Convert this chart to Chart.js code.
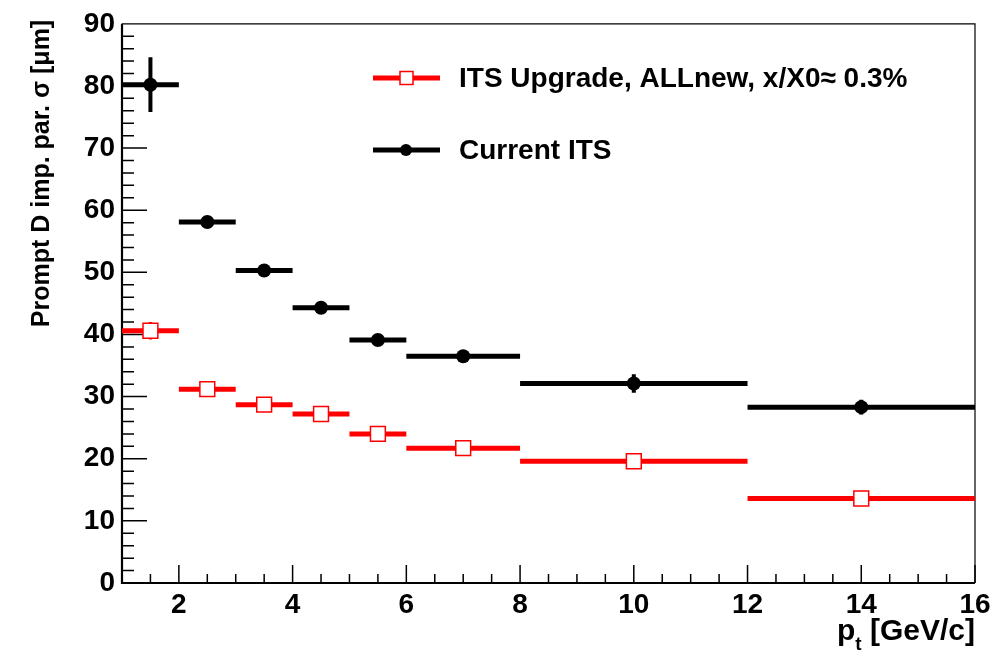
<!DOCTYPE html>
<html>
<head>
<meta charset="utf-8">
<script src="https://cdn.jsdelivr.net/npm/chart.js@4.4.2/dist/chart.umd.min.js"></script>
<style>
  html, body { margin: 0; padding: 0; background: #fff; }
</style>
</head>
<body>
<canvas id="chart" width="1006" height="657"></canvas>
<script>
// pt bins [GeV/c]
const binLo = [1, 2, 3, 4, 5, 6, 8, 12];
const binHi = [2, 3, 4, 5, 6, 8, 12, 16];
const binMid = [1.5, 2.5, 3.5, 4.5, 5.5, 7, 10, 14];

// impact parameter resolution [um]
const currentITS = [80.2, 58.1, 50.3, 44.3, 39.1, 36.5, 32.1, 28.3];
const currentErr = [4.4, 0.6, 0.6, 0.6, 0.6, 0.7, 1.5, 1.2];
const upgradeITS = [40.6, 31.2, 28.7, 27.2, 24.0, 21.7, 19.6, 13.6];
const upgradeErr = [1.4, 0.5, 0.5, 0.5, 0.5, 0.5, 0.5, 0.5];

const xTicks = [2, 4, 6, 8, 10, 12, 14, 16];
const yTicks = [0, 10, 20, 30, 40, 50, 60, 70, 80, 90];

const legendLabels = ['ITS Upgrade, ALLnew, x/X0\u2248 0.3%', 'Current ITS'];

const RED = '#ff0000';
const BLACK = '#000000';
const FONT = '"Liberation Sans", Arial, Helvetica, sans-serif';

function segments(vals) {
    const out = [];
    vals.forEach((v, i) => {
        out.push({x: binLo[i], y: v}, {x: binHi[i], y: v}, {x: binHi[i], y: null});
    });
    return out;
}
function points(vals) {
    return vals.map((v, i) => ({x: binMid[i], y: v}));
}

const rootStyle = {
    id: 'rootStyle',
    beforeDatasetsDraw(chart) {
        const {ctx, chartArea: a, scales: {x, y}} = chart;
        ctx.save();
        // frame
        ctx.strokeStyle = '#000';
        ctx.lineWidth = 1.2;
        ctx.beginPath();
        ctx.moveTo(a.left, a.top); ctx.lineTo(a.right, a.top); ctx.lineTo(a.right, a.bottom);
        ctx.stroke();
        ctx.lineWidth = 2.2;
        ctx.beginPath();
        ctx.moveTo(a.left, a.top); ctx.lineTo(a.left, a.bottom); ctx.lineTo(a.right, a.bottom);
        ctx.stroke();
        // ticks inside frame
        ctx.lineWidth = 1.5;
        ctx.beginPath();
        for (let v = 1.5; v <= 16; v += 0.5) {
            const px = x.getPixelForValue(v);
            const len = v % 2 === 0 ? 18 : 9;
            ctx.moveTo(px, a.bottom); ctx.lineTo(px, a.bottom - len);
        }
        for (let v = 2; v < 90; v += 2) {
            const py = y.getPixelForValue(v);
            const len = v % 10 === 0 ? 25 : 12;
            ctx.moveTo(a.left, py); ctx.lineTo(a.left + len, py);
        }
        ctx.stroke();
        // vertical error bars
        const errs = [[currentITS, currentErr, BLACK, 4], [upgradeITS, upgradeErr, RED, 3]];
        errs.forEach(([vals, err, col, w]) => {
            ctx.strokeStyle = col;
            ctx.lineWidth = w;
            ctx.beginPath();
            vals.forEach((v, i) => {
                const px = x.getPixelForValue(binMid[i]);
                ctx.moveTo(px, y.getPixelForValue(v - err[i]));
                ctx.lineTo(px, y.getPixelForValue(v + err[i]));
            });
            ctx.stroke();
        });
        ctx.restore();
    },
    afterDraw(chart) {
        const {ctx, chartArea: a} = chart;
        ctx.save();
        // legend
        const rows = [[RED, 78, 'rect'], [BLACK, 150, 'circle']];
        rows.forEach(([col, ly, shape], i) => {
            ctx.strokeStyle = col;
            ctx.lineWidth = 5;
            ctx.beginPath();
            ctx.moveTo(373, ly); ctx.lineTo(440, ly);
            ctx.stroke();
            if (shape === 'rect') {
                ctx.fillStyle = '#fff';
                ctx.lineWidth = 1.5;
                ctx.fillRect(400, ly - 6.5, 13, 13);
                ctx.strokeRect(400, ly - 6.5, 13, 13);
            } else {
                ctx.fillStyle = col;
                ctx.beginPath();
                ctx.arc(406, ly, 6, 0, Math.PI * 2);
                ctx.fill();
            }
            ctx.fillStyle = '#000';
            ctx.font = `bold 28px ${FONT}`;
            ctx.textBaseline = 'middle';
            ctx.textAlign = 'left';
            ctx.fillText(legendLabels[i], 459, ly + 1);
        });
        // x title: p_t [GeV/c], right aligned
        ctx.fillStyle = '#000';
        ctx.textBaseline = 'alphabetic';
        ctx.textAlign = 'left';
        ctx.font = `bold 30px ${FONT}`;
        const rest = ' [GeV/c]';
        const wRest = ctx.measureText(rest).width;
        const wp = ctx.measureText('p').width;
        ctx.font = `bold 19px ${FONT}`;
        const wt = ctx.measureText('t').width;
        const x0 = a.right - wRest - wt - wp;
        ctx.font = `bold 30px ${FONT}`;
        ctx.fillText('p', x0, 640);
        ctx.fillText(rest, x0 + wp + wt, 640);
        ctx.font = `bold 19px ${FONT}`;
        ctx.fillText('t', x0 + wp, 650);
        // y title, rotated, aligned to the top end
        ctx.translate(42, a.top - 4);
        ctx.rotate(-Math.PI / 2);
        ctx.font = `bold 25px ${FONT}`;
        ctx.textAlign = 'right';
        ctx.textBaseline = 'middle';
        ctx.fillText('Prompt D imp. par. \u03c3 [\u03bcm]', 0, 0);
        ctx.restore();
    }
};

new Chart(document.getElementById('chart'), {
    type: 'scatter',
    data: {
        datasets: [
            {
                data: points(currentITS),
                order: 0,
                pointStyle: 'circle',
                pointRadius: 7,
                backgroundColor: BLACK,
                borderColor: BLACK,
                borderWidth: 0
            },
            {
                data: points(upgradeITS),
                order: 0,
                pointStyle: 'rect',
                pointRadius: 10.5,
                backgroundColor: '#ffffff',
                borderColor: RED,
                borderWidth: 1.5
            },
            {
                data: segments(currentITS),
                order: 1,
                showLine: true,
                spanGaps: false,
                pointRadius: 0,
                borderColor: BLACK,
                borderWidth: 5,
                borderCapStyle: 'butt'
            },
            {
                data: segments(upgradeITS),
                order: 1,
                showLine: true,
                spanGaps: false,
                pointRadius: 0,
                borderColor: RED,
                borderWidth: 5,
                borderCapStyle: 'butt'
            }
        ]
    },
    options: {
        responsive: false,
        animation: false,
        layout: {padding: {left: 0, right: 31, top: 19, bottom: 0}},
        plugins: {
            legend: {display: false},
            tooltip: {enabled: false}
        },
        scales: {
            x: {
                type: 'linear',
                min: 1,
                max: 16,
                afterBuildTicks: axis => { axis.ticks = xTicks.map(v => ({value: v})); },
                afterFit: scale => { scale.height = 74; },
                grid: {display: false, drawTicks: false},
                border: {display: false},
                ticks: {
                    color: '#000',
                    padding: 5,
                    maxRotation: 0,
                    font: {family: FONT, size: 28, weight: 'bold'}
                }
            },
            y: {
                type: 'linear',
                min: 0,
                max: 90,
                afterBuildTicks: axis => { axis.ticks = yTicks.map(v => ({value: v})); },
                afterFit: scale => { scale.width = 122; },
                grid: {display: false, drawTicks: false},
                border: {display: false},
                ticks: {
                    color: '#000',
                    padding: 7,
                    font: {family: FONT, size: 28, weight: 'bold'}
                }
            }
        }
    },
    plugins: [rootStyle]
});
</script>
</body>
</html>
